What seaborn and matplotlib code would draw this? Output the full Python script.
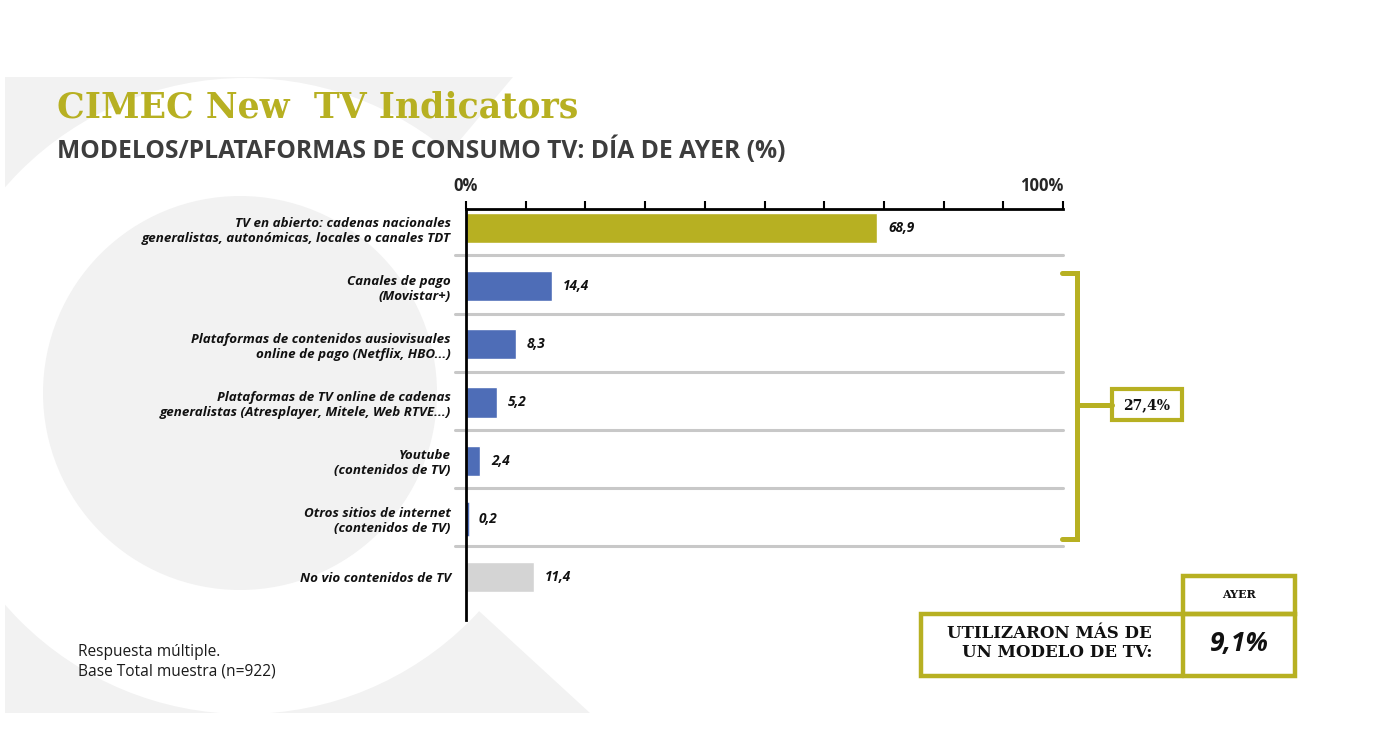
import matplotlib
matplotlib.use("Agg")
import matplotlib.pyplot as plt
import matplotlib.patches as mpatches
import seaborn as sns
import pandas as pd

categories = [
    "TV en abierto: cadenas nacionales\ngeneralistas, autonómicas, locales o canales TDT",
    "Canales de pago\n(Movistar+)",
    "Plataformas de contenidos ausiovisuales\nonline de pago (Netflix, HBO...)",
    "Plataformas de TV online de cadenas\ngeneralistas (Atresplayer, Mitele, Web RTVE...)",
    "Youtube\n(contenidos de TV)",
    "Otros sitios de internet\n(contenidos de TV)",
    "No vio contenidos de TV",
]
values = [68.9, 14.4, 8.3, 5.2, 2.4, 0.2, 11.4]
bar_colors = ["#b7b022", "#4e6db7", "#4e6db7", "#4e6db7", "#4e6db7", "#4e6db7", "#d4d4d4"]
online_total = "27,4%"
multi_model = "9,1%"

OLIVE = "#b7b022"

sns.set_theme(style="white")
plt.rcParams["font.family"] = ["Open Sans", "DejaVu Sans"]

fig = plt.figure(figsize=(13.92, 7.34), dpi=100)

# background watermark in pixel coordinates
bg = fig.add_axes([0, 0, 1, 1], zorder=0)
bg.set_xlim(0, 1392)
bg.set_ylim(734, 0)
bg.axis("off")
bg.add_patch(mpatches.Rectangle((5, 77), 585, 636, color="#f2f2f2", lw=0))
bg.add_patch(mpatches.Circle((245, 396), 318, color="white", lw=0))
bg.add_patch(mpatches.Polygon([(245, 396), (513, 77), (600, 77), (600, 713), (590, 713)],
                              closed=True, color="white", lw=0))
bg.add_patch(mpatches.Circle((240, 393), 197, color="#f2f2f2", lw=0))

bg.text(57, 107, "CIMEC New  TV Indicators", family="DejaVu Serif", weight="bold",
        fontsize=25, color=OLIVE, va="center", ha="left")
bg.text(57, 150, "MODELOS/PLATAFORMAS DE CONSUMO TV: DÍA DE AYER (%)",
        weight="bold", fontsize=17.7, color="#3d3d3d", va="center", ha="left")
bg.text(78, 652, "Respuesta múltiple.", fontsize=11.2, color="#1a1a1a", va="center")
bg.text(78, 672, "Base Total muestra (n=922)", fontsize=11.2, color="#1a1a1a", va="center")

# bracket for online models
bw = 3.6
bg.plot([1062, 1077, 1077, 1062], [273, 273, 539, 539], color=OLIVE, lw=bw,
        solid_joinstyle="miter")
bg.plot([1077, 1112], [405, 405], color=OLIVE, lw=bw)
bg.add_patch(mpatches.Rectangle((1112, 389), 70, 31, fill=False, ec=OLIVE, lw=3))
bg.text(1147, 405, online_total, family="DejaVu Serif", weight="bold", fontsize=10,
        ha="center", va="center", color="#111111")

# table bottom right
bg.add_patch(mpatches.Rectangle((1183, 576), 112, 38, fill=False, ec=OLIVE, lw=3.2))
bg.add_patch(mpatches.Rectangle((921, 614), 374, 62, fill=False, ec=OLIVE, lw=3.2))
bg.plot([1183, 1183], [614, 676], color=OLIVE, lw=3.2)
bg.text(1239, 595, "AYER", family="DejaVu Serif", weight="bold", fontsize=8,
        ha="center", va="center", color="#111111")
bg.text(1152, 643, "UTILIZARON MÁS DE\nUN MODELO DE TV:", family="DejaVu Serif",
        weight="bold", fontsize=12, ha="right", va="center", color="#111111",
        linespacing=1.2)
bg.text(1239, 643, multi_model, weight="bold", style="italic", fontsize=19,
        ha="center", va="center", color="#111111")

# main chart
ax = fig.add_axes([466 / 1392, 1 - 620 / 734, (1063 - 466) / 1392, (620 - 209) / 734], zorder=1)
ax.patch.set_alpha(0)
df = pd.DataFrame({"cat": categories, "val": values})
sns.barplot(data=df, y="cat", x="val", hue="cat", palette=bar_colors, legend=False,
            width=0.52, orient="h", ax=ax, saturation=1)

ax.set_xlim(0, 100)
ax.set_ylim(6.74, -0.327)

# keep the tiny 0,2 bar visible, as in the original
for p in ax.patches:
    if p.get_width() < 1:
        p.set_edgecolor(p.get_facecolor())
        p.set_linewidth(2.5)

for i in range(len(categories) - 1):
    ax.plot([-1.8, 100], [i + 0.47, i + 0.47], color="#c8c8c8", lw=2.2, clip_on=False,
            zorder=0.5)

for cont in ax.containers:
    ax.bar_label(cont, labels=[f"{v:.1f}".replace(".", ",") for v in cont.datavalues],
                 padding=8, fontsize=9.8, weight="bold", style="italic", color="#111111")

ax.xaxis.tick_top()
ax.set_xticks(range(0, 101, 10))
ax.set_xticklabels(["0%"] + [""] * 9 + ["100%"], fontsize=12, weight="bold")
ax.get_xticklabels()[-1].set_horizontalalignment("right")
ax.tick_params(axis="x", direction="out", length=6, width=1.5, color="black", pad=4, top=True)
ax.tick_params(axis="y", length=0, pad=11)
for lab in ax.get_yticklabels():
    lab.set_fontsize(9.6)
    lab.set_fontweight("bold")
    lab.set_fontstyle("italic")
    lab.set_linespacing(1.2)
    lab.set_color("#111111")
ax.set_xlabel("")
ax.set_ylabel("")
for s in ["right", "bottom"]:
    ax.spines[s].set_visible(False)
for s in ["top", "left"]:
    ax.spines[s].set_linewidth(2)
    ax.spines[s].set_color("black")

fig.savefig("out.png", dpi=100)
